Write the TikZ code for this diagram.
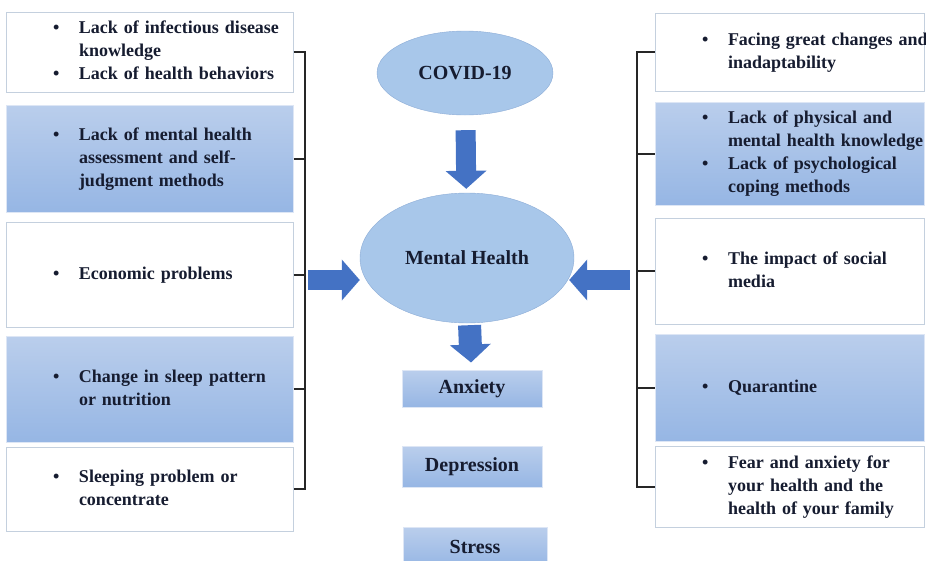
\documentclass[tikz,border=0pt]{standalone}
\usepackage{fontspec}
\setmainfont{Liberation Serif}
\usetikzlibrary{shapes.geometric, arrows.meta}

\definecolor{boxline}{RGB}{196,208,222}
\definecolor{bluetop}{RGB}{186,206,236}
\definecolor{bluebot}{RGB}{150,182,228}
\definecolor{ovalfill}{RGB}{168,199,234}
\definecolor{ovalline}{RGB}{140,172,214}
\definecolor{arrowblue}{RGB}{68,114,196}
\definecolor{inkblue}{RGB}{22,28,48}

\newcommand{\blist}[1]{\hspace*{47pt}%
  \begin{tabular}[c]{@{}p{26pt}@{}l@{}}#1\end{tabular}}

\begin{document}
\begin{tikzpicture}[x = 1pt, y = -1pt,
    every node/.style = {font = \fontsize{18}{23}\selectfont\bfseries, text = inkblue},
    sidebox/.style = {text width = #1, inner sep = 0pt, align = left, line width = 1pt},
    whitebox/.style = {sidebox = #1, draw = boxline, fill = white},
    bluebox/.style = {sidebox = #1, draw = bluetop!50!white,
      top color = bluetop, bottom color = bluebot},
    outbox/.style = {draw = bluetop!50!white, line width = 1pt,
      top color = bluetop, bottom color = bluebot, minimum width = 140pt, inner sep = 0pt,
      font = \fontsize{20}{23}\selectfont\bfseries},
    oval/.style = {ellipse, draw = ovalline, fill = ovalfill, inner sep = 0pt,
      font = \fontsize{20}{23}\selectfont\bfseries},
    bracket/.style = {line width = 2pt, draw = black!85},
    bigarrow/.style = {line width = 20pt, draw = arrowblue,
      -{Triangle[width = 40pt, length = 18pt]}}]
  \useasboundingbox (0, 0) rectangle (926, 560);

  \node[whitebox = 287pt, minimum height = 80pt] (L1) at (149.5, 52)
    {\blist{\textbullet & Lack of infectious disease\\ & knowledge\\
      \textbullet & Lack of health behaviors}};
  \node[bluebox = 287pt, minimum height = 107pt] (L2) at (149.5, 158.5)
    {\blist{\textbullet & Lack of mental health\\ & assessment and self-\\ & judgment methods}};
  \node[whitebox = 287pt, minimum height = 105pt] (L3) at (149.5, 274.5)
    {\blist{\textbullet & Economic problems}};
  \node[bluebox = 287pt, minimum height = 106pt] (L4) at (149.5, 389)
    {\blist{\textbullet & Change in sleep pattern\\ & or nutrition}};
  \node[whitebox = 287pt, minimum height = 84pt] (L5) at (149.5, 489)
    {\blist{\textbullet & Sleeping problem or\\ & concentrate}};

  \node[whitebox = 269pt, minimum height = 78pt] (R1) at (789.5, 52)
    {\blist{\textbullet & Facing great changes and\\ & inadaptability}};
  \node[bluebox = 269pt, minimum height = 103pt] (R2) at (789.5, 153.5)
    {\blist{\textbullet & Lack of physical and\\ & mental health knowledge\\
      \textbullet & Lack of psychological\\ & coping methods}};
  \node[whitebox = 269pt, minimum height = 106pt] (R3) at (789.5, 271)
    {\blist{\textbullet & The impact of social\\ & media}};
  \node[bluebox = 269pt, minimum height = 107pt] (R4) at (789.5, 387.5)
    {\blist{\textbullet & Quarantine}};
  \node[whitebox = 269pt, minimum height = 81pt] (R5) at (789.5, 486.5)
    {\blist{\textbullet & Fear and anxiety for\\ & your health and the\\ & health of your family}};

  \node[oval, minimum width = 176pt, minimum height = 84pt] (covid) at (465, 73) {COVID-19};
  \node[oval, minimum width = 214pt, minimum height = 130pt] (mental) at (467, 258) {Mental Health};

  \node[outbox, minimum height = 37pt] (anxiety) at (472, 388.5) {Anxiety};
  \node[outbox, minimum height = 41pt] (depression) at (472, 466.5) {Depression};
  \node[outbox, minimum width = 144pt, minimum height = 40pt] (stress) at (475, 547) {Stress};

  \draw[bracket] (L1.east) -- ++(11, 0) |- (L5.east);
  \foreach \b in {L2, L3, L4}
    \draw[bracket] (\b.east) -- ++(11, 0);
  \draw[bracket] (R1.west) -- ++(-18, 0) |- (R5.west);
  \foreach \b in {R2, R3, R4}
    \draw[bracket] (\b.west) -- ++(-18, 0);

  \coordinate (lin) at (308, 280);
  \coordinate (rin) at (630, 280);
  \draw[bigarrow, shorten < = 15pt, shorten > = 4pt] (covid) -- (mental);
  \draw[bigarrow] (lin) -- (lin -| mental.west);
  \draw[bigarrow, shorten > = -5pt] (rin) -- (rin -| mental.east);
  \draw[bigarrow, line width = 23pt, shorten < = 2pt, shorten > = 7pt] (mental) -- (anxiety);
\end{tikzpicture}
\end{document}
